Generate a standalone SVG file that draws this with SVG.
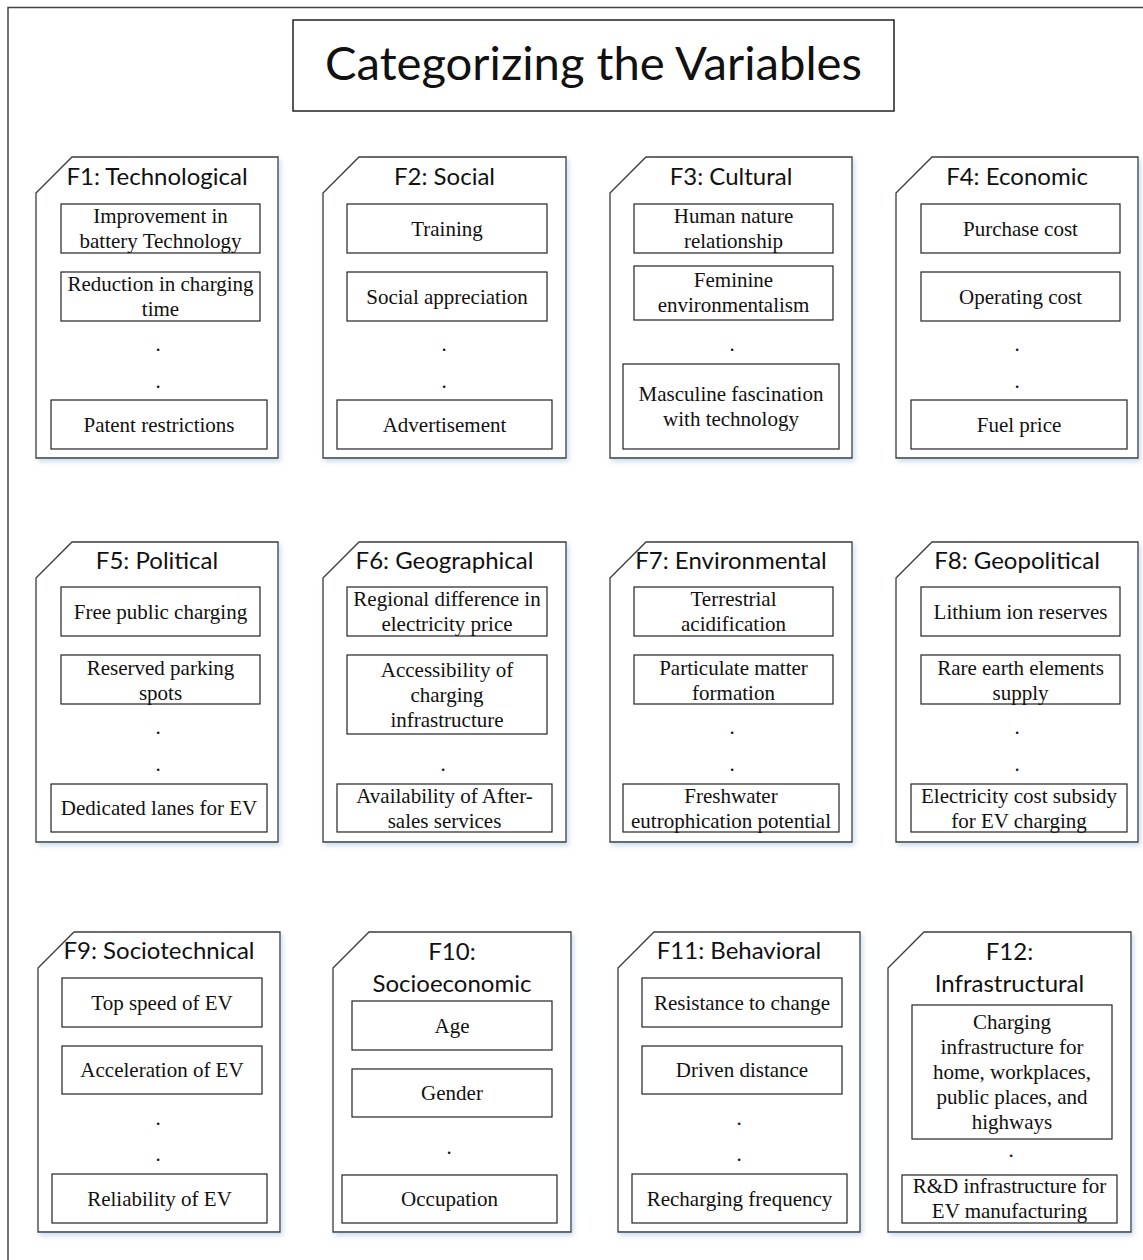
<svg xmlns="http://www.w3.org/2000/svg" width="1143" height="1260" viewBox="0 0 1143 1260">
<defs>
<filter id="sh" x="-5%" y="-5%" width="115%" height="115%">
<feDropShadow dx="2" dy="3" stdDeviation="2.5" flood-color="#8fb0d8" flood-opacity="0.45"/>
</filter>
<style>
.frame{fill:none;stroke:#444;stroke-width:1.5}
.title{fill:#fff;stroke:#222;stroke-width:1.5}
.tt{font-family:Lato,"Liberation Sans",Arial,sans-serif;font-size:47px;text-anchor:middle;fill:#111}
.card{fill:#fff;stroke:#3a3a3a;stroke-width:1.3;filter:url(#sh)}
.box{fill:none;stroke:#222;stroke-width:1.2}
.hd{font-family:Lato,"Liberation Sans",Arial,sans-serif;font-size:24px;text-anchor:middle;fill:#111}
.it{font-family:"Liberation Serif","Times New Roman",serif;font-size:21px;text-anchor:middle;fill:#111}
</style>
</defs>
<rect fill="#fff" x="0" y="0" width="1143" height="1260"/>
<rect class="frame" x="8" y="7.5" width="1200" height="1300"/>
<g id="title">
<rect class="title" x="293" y="20" width="601" height="91"/>
<text class="tt" x="593.5" y="80" textLength="537" lengthAdjust="spacingAndGlyphs">Categorizing the Variables</text>
</g>
<g id="connectors"/>

<!-- Row 1 -->
<g id="F1">
<path class="card" d="M36,193 L72,157 L278,157 L278,458 L36,458 Z"/>
<text class="hd" x="157" y="185">F1: Technological</text>
<rect class="box" x="61" y="204" width="199" height="49"/>
<text class="it" x="160.5" y="223">Improvement in</text>
<text class="it" x="160.5" y="248">battery Technology</text>
<rect class="box" x="61" y="272" width="199" height="49"/>
<text class="it" x="160.5" y="291">Reduction in charging</text>
<text class="it" x="160.5" y="316">time</text>
<text class="it" x="158" y="350.5">.</text>
<text class="it" x="158" y="387.5">.</text>
<rect class="box" x="51" y="400" width="216" height="49"/>
<text class="it" x="159" y="431.5">Patent restrictions</text>
</g>
<g id="F2">
<path class="card" d="M323,193 L359,157 L566,157 L566,458 L323,458 Z"/>
<text class="hd" x="444.5" y="185">F2: Social</text>
<rect class="box" x="347" y="204" width="200" height="49"/>
<text class="it" x="447" y="235.5">Training</text>
<rect class="box" x="347" y="272" width="200" height="49"/>
<text class="it" x="447" y="303.5">Social appreciation</text>
<text class="it" x="444" y="350.5">.</text>
<text class="it" x="444" y="387.5">.</text>
<rect class="box" x="337" y="400" width="215" height="49"/>
<text class="it" x="444.5" y="431.5">Advertisement</text>
</g>
<g id="F3">
<path class="card" d="M610,193 L646,157 L852,157 L852,458 L610,458 Z"/>
<text class="hd" x="731" y="185">F3: Cultural</text>
<rect class="box" x="634" y="204" width="199" height="49"/>
<text class="it" x="733.5" y="223">Human nature</text>
<text class="it" x="733.5" y="248">relationship</text>
<rect class="box" x="634" y="266" width="199" height="54"/>
<text class="it" x="733.5" y="287">Feminine</text>
<text class="it" x="733.5" y="312">environmentalism</text>
<text class="it" x="732" y="350.5">.</text>
<rect class="box" x="623" y="364" width="216" height="85"/>
<text class="it" x="731" y="401">Masculine fascination</text>
<text class="it" x="731" y="426">with technology</text>
</g>
<g id="F4">
<path class="card" d="M896,193 L932,157 L1138,157 L1138,458 L896,458 Z"/>
<text class="hd" x="1017" y="185">F4: Economic</text>
<rect class="box" x="921" y="204" width="199" height="49"/>
<text class="it" x="1020.5" y="235.5">Purchase cost</text>
<rect class="box" x="921" y="272" width="199" height="49"/>
<text class="it" x="1020.5" y="303.5">Operating cost</text>
<text class="it" x="1017" y="350.5">.</text>
<text class="it" x="1017" y="387.5">.</text>
<rect class="box" x="911" y="400" width="216" height="49"/>
<text class="it" x="1019" y="431.5">Fuel price</text>
</g>

<!-- Row 2 -->
<g id="F5">
<path class="card" d="M36,578 L72,542 L278,542 L278,842 L36,842 Z"/>
<text class="hd" x="157" y="569">F5: Political</text>
<rect class="box" x="61" y="587" width="199" height="49"/>
<text class="it" x="160.5" y="618.5">Free public charging</text>
<rect class="box" x="61" y="655" width="199" height="49"/>
<text class="it" x="160.5" y="674.5">Reserved parking</text>
<text class="it" x="160.5" y="699.5">spots</text>
<text class="it" x="158" y="733.5">.</text>
<text class="it" x="158" y="770.5">.</text>
<rect class="box" x="51" y="784" width="216" height="48"/>
<text class="it" x="159" y="815">Dedicated lanes for EV</text>
</g>
<g id="F6">
<path class="card" d="M323,578 L359,542 L566,542 L566,842 L323,842 Z"/>
<text class="hd" x="444.5" y="569">F6: Geographical</text>
<rect class="box" x="347" y="587" width="200" height="49"/>
<text class="it" x="447" y="605.5">Regional difference in</text>
<text class="it" x="447" y="630.5">electricity price</text>
<rect class="box" x="347" y="655" width="200" height="79"/>
<text class="it" x="447" y="676.5">Accessibility of</text>
<text class="it" x="447" y="701.5">charging</text>
<text class="it" x="447" y="726.5">infrastructure</text>
<text class="it" x="443" y="770.5">.</text>
<rect class="box" x="337" y="784" width="215" height="48"/>
<text class="it" x="444.5" y="802.5">Availability of After-</text>
<text class="it" x="444.5" y="827.5">sales services</text>
</g>
<g id="F7">
<path class="card" d="M610,578 L646,542 L852,542 L852,842 L610,842 Z"/>
<text class="hd" x="731" y="569">F7: Environmental</text>
<rect class="box" x="634" y="587" width="199" height="49"/>
<text class="it" x="733.5" y="605.5">Terrestrial</text>
<text class="it" x="733.5" y="630.5">acidification</text>
<rect class="box" x="634" y="655" width="199" height="49"/>
<text class="it" x="733.5" y="674.5">Particulate matter</text>
<text class="it" x="733.5" y="699.5">formation</text>
<text class="it" x="732" y="733.5">.</text>
<text class="it" x="732" y="770.5">.</text>
<rect class="box" x="623" y="784" width="216" height="48"/>
<text class="it" x="731" y="802.5">Freshwater</text>
<text class="it" x="731" y="827.5">eutrophication potential</text>
</g>
<g id="F8">
<path class="card" d="M896,578 L932,542 L1138,542 L1138,842 L896,842 Z"/>
<text class="hd" x="1017" y="569">F8: Geopolitical</text>
<rect class="box" x="921" y="587" width="199" height="49"/>
<text class="it" x="1020.5" y="618.5">Lithium ion reserves</text>
<rect class="box" x="921" y="655" width="199" height="49"/>
<text class="it" x="1020.5" y="674.5">Rare earth elements</text>
<text class="it" x="1020.5" y="699.5">supply</text>
<text class="it" x="1017" y="733.5">.</text>
<text class="it" x="1017" y="770.5">.</text>
<rect class="box" x="911" y="784" width="216" height="48"/>
<text class="it" x="1019" y="802.5">Electricity cost subsidy</text>
<text class="it" x="1019" y="827.5">for EV charging</text>
</g>

<!-- Row 3 -->
<g id="F9">
<path class="card" d="M38,968 L74,932 L280,932 L280,1232 L38,1232 Z"/>
<text class="hd" x="159" y="959">F9: Sociotechnical</text>
<rect class="box" x="62" y="978" width="200" height="49"/>
<text class="it" x="162" y="1009.5">Top speed of EV</text>
<rect class="box" x="62" y="1046" width="200" height="48"/>
<text class="it" x="162" y="1077">Acceleration of EV</text>
<text class="it" x="158" y="1124.5">.</text>
<text class="it" x="158" y="1160.5">.</text>
<rect class="box" x="52" y="1174" width="215" height="49"/>
<text class="it" x="159.5" y="1205.5">Reliability of EV</text>
</g>
<g id="F10">
<path class="card" d="M333,968 L369,932 L571,932 L571,1232 L333,1232 Z"/>
<text class="hd" x="452" y="960">F10:</text>
<text class="hd" x="452" y="992">Socioeconomic</text>
<rect class="box" x="352" y="1001" width="200" height="49"/>
<text class="it" x="452" y="1032.5">Age</text>
<rect class="box" x="352" y="1069" width="200" height="48"/>
<text class="it" x="452" y="1100">Gender</text>
<text class="it" x="449" y="1153.5">.</text>
<rect class="box" x="342" y="1175" width="215" height="48"/>
<text class="it" x="449.5" y="1206">Occupation</text>
</g>
<g id="F11">
<path class="card" d="M618,968 L654,932 L860,932 L860,1232 L618,1232 Z"/>
<text class="hd" x="739" y="959">F11: Behavioral</text>
<rect class="box" x="642" y="978" width="200" height="49"/>
<text class="it" x="742" y="1009.5">Resistance to change</text>
<rect class="box" x="642" y="1046" width="200" height="48"/>
<text class="it" x="742" y="1077">Driven distance</text>
<text class="it" x="739" y="1124.5">.</text>
<text class="it" x="739" y="1160.5">.</text>
<rect class="box" x="632" y="1174" width="215" height="49"/>
<text class="it" x="739.5" y="1205.5">Recharging frequency</text>
</g>
<g id="F12">
<path class="card" d="M888,968 L924,932 L1131,932 L1131,1232 L888,1232 Z"/>
<text class="hd" x="1009.5" y="960">F12:</text>
<text class="hd" x="1009.5" y="992">Infrastructural</text>
<rect class="box" x="912" y="1005" width="200" height="134"/>
<text class="it" x="1012" y="1029">Charging</text>
<text class="it" x="1012" y="1054">infrastructure for</text>
<text class="it" x="1012" y="1079">home, workplaces,</text>
<text class="it" x="1012" y="1104">public places, and</text>
<text class="it" x="1012" y="1129">highways</text>
<text class="it" x="1011" y="1156.5">.</text>
<rect class="box" x="902" y="1175" width="215" height="48"/>
<text class="it" x="1009.5" y="1192.5">R&amp;D infrastructure for</text>
<text class="it" x="1009.5" y="1217.5">EV manufacturing</text>
</g>
</svg>
